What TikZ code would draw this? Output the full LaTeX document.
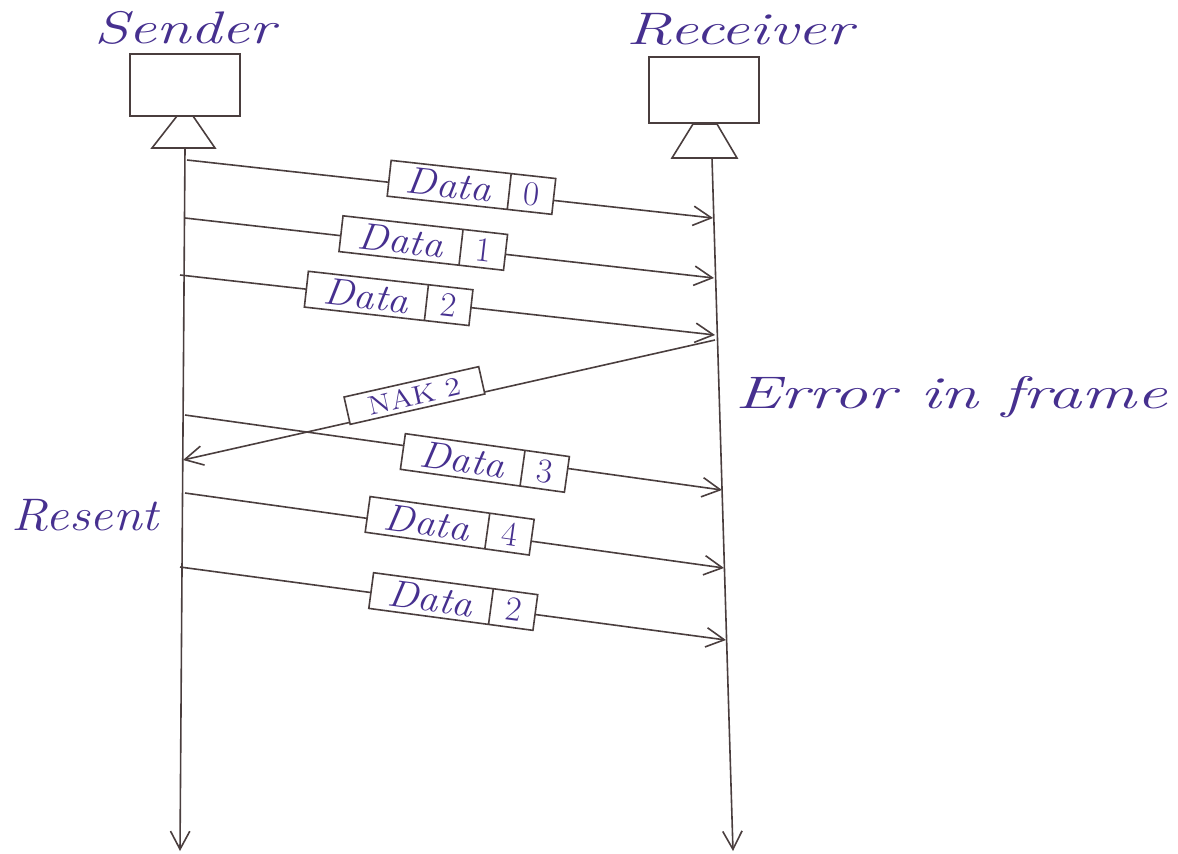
\documentclass[tikz,border=0pt]{standalone}
\usetikzlibrary{arrows.meta, shapes.multipart, positioning}
\definecolor{inkPurple}{HTML}{46308F}
\definecolor{pencil}{HTML}{4A3E3E}
\tikzset{
  wire/.style      = {pencil, line width=0.8pt},
  msg/.style       = {wire, -{Straight Barb[length=3.2mm, width=3.4mm]}},
  station/.style   = {draw=pencil, line width=0.8pt, minimum width=55pt,
                      minimum height=31pt, inner sep=0pt},
  who/.style       = {inkPurple, font=\huge\itshape},
  note/.style      = {inkPurple, font=\huge\itshape},
  frame/.style     = {rectangle split, rectangle split horizontal,
                      rectangle split parts=2, draw=pencil, line width=0.8pt,
                      fill=white, text=inkPurple, font=\LARGE\itshape,
                      inner xsep=3pt, inner ysep=1pt, minimum height=18pt, sloped},
  nakbox/.style    = {draw=pencil, line width=0.8pt, fill=white, text=inkPurple,
                      font=\large, minimum width=69pt, minimum height=14pt,
                      inner sep=1pt, sloped},
}
\newcommand{\hw}[2]{\scalebox{#1}[1.1]{#2}}
\newcommand{\dataframe}[1]{\makebox[54pt]{\hw{1.2}{Data}}\nodepart{two}\makebox[16pt]{\upshape #1}}

\begin{document}
\begin{tikzpicture}[x=0.5pt, y=-0.5pt]
  \useasboundingbox (0,0) rectangle (1178,853);

  % stations
  \node[station] (sbox) at (185,85) {};
  \node[station, minimum height=33pt] (rbox) at (704,90) {};
  \node[who, above=1pt of sbox] (slbl) {\hw{1.5}{Sender}};
  \node[who, above=2pt of rbox, xshift=18pt] (rlbl) {\hw{1.55}{Receiver}};

  \draw[wire] (177,116) -- (193,116) -- (215,148) -- (152,148) -- cycle;
  \draw[wire] (693,124) -- (717,124) -- (737,158) -- (672,158) -- cycle;

  % time lines
  \coordinate (stop) at (185,148);
  \coordinate (sbot) at (180,851);
  \coordinate (rtop) at (712,158);
  \coordinate (rbot) at (733,851);
  \draw[msg] (stop) -- (sbot);
  \draw[msg] (rtop) -- (rbot);

  % send / receive points
  \coordinate (s0) at (187,160);  \coordinate (r0) at (713,218);
  \coordinate (s1) at (185,218);  \coordinate (r1) at (714,278);
  \coordinate (s2) at (180,275);  \coordinate (r2) at (715,335);
  \coordinate (rn) at (715,340);  \coordinate (sn) at (183,460);
  \coordinate (s3) at (185,415);  \coordinate (r3) at (722,490);
  \coordinate (s4) at (185,493);  \coordinate (r4) at (724,568);
  \coordinate (s5) at (180,567);  \coordinate (r5) at (726,640);

  \draw[msg] (s0) -- (r0) node[frame, pos=0.54, yshift=2pt] (f0) {\dataframe{0}};
  \draw[msg] (s1) -- (r1) node[frame, pos=0.45, yshift=1pt] (f1) {\dataframe{1}};
  \draw[msg] (s2) -- (r2) node[frame, pos=0.39, yshift=0pt] (f2) {\dataframe{2}};
  \draw[msg] (rn) -- (sn) node[nakbox, pos=0.56, yshift=6pt] (nak) {\hw{1.3}{NAK 2}};
  \draw[msg] (s3) -- (r3) node[frame, pos=0.56, yshift=-3pt] (f3) {\dataframe{3}};
  \draw[msg] (s4) -- (r4) node[frame, pos=0.49, yshift=2pt] (f4) {\dataframe{4}};
  \draw[msg] (s5) -- (r5) node[frame, pos=0.50, yshift=1pt] (f5) {\dataframe{2}};

  \node[note, anchor=west] (err) at (728,397) {\hw{1.65}{Error in frame}};
  \node[note] (resent) at (85,515) {\hw{1.25}{Resent}};
\end{tikzpicture}
\end{document}
